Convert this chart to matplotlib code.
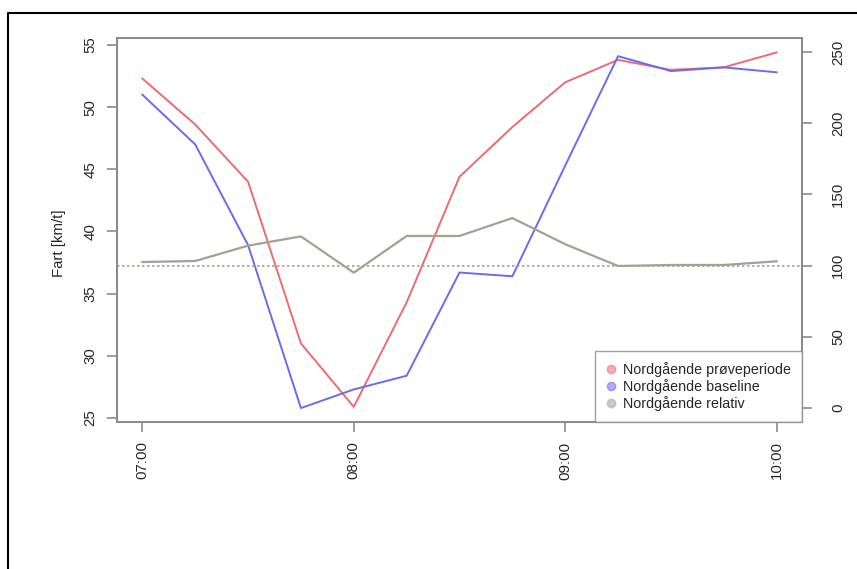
import matplotlib
matplotlib.use("Agg")
import matplotlib.pyplot as plt
from matplotlib.lines import Line2D

# ---- data ----
times = ["07:00", "07:15", "07:30", "07:45", "08:00", "08:15", "08:30",
         "08:45", "09:00", "09:15", "09:30", "09:45", "10:00"]
proeve = [52.3, 48.6, 44.0, 31.0, 25.9, 34.3, 44.4, 48.4, 52.0, 53.8, 53.0, 53.2, 54.4]
baseline = [51.0, 47.0, 38.9, 25.8, 27.3, 28.4, 36.7, 36.4, 45.3, 54.1, 52.9, 53.2, 52.8]
relativ = [102.5, 103.2, 114.0, 120.5, 95.0, 120.8, 120.8, 133.4, 115.0, 99.7, 100.4, 100.4, 103.0]
ref_level = 100
xtick_labels = ["07:00", "08:00", "09:00", "10:00"]
left_ticks = [25, 30, 35, 40, 45, 50, 55]
right_ticks = [0, 50, 100, 150, 200, 250]
legend_labels = ["Nordgående prøveperiode", "Nordgående baseline", "Nordgående relativ"]

plt.rcParams['font.family'] = ['Liberation Sans', 'DejaVu Sans']

c_red = "#EE6A72"
c_blue = "#6B6BEE"
c_green = "#9CA68F"
c_axis = "#8A8A8A"
c_text = "#262626"

fig = plt.figure(figsize=(8.57, 5.69), dpi=100)
ax = fig.add_axes([117/857, 1-422/569, (802-117)/857, (422-38)/569])
ax2 = ax.twinx()

x = list(range(len(times)))
ax.plot(x, proeve, color=c_red, lw=1.4)
ax.plot(x, baseline, color=c_blue, lw=1.4)
ax2.plot(x, relativ, color=c_green, lw=1.6)
ax2.axhline(ref_level, color=c_green, lw=1.2, ls=(0, (1.5, 1.5)))

ax.set_xlim(-0.48, 12.48)
ax.set_ylim(24.68, 55.56)
ax2.set_ylim(-10, 260)

tick_pos = [times.index(t) for t in xtick_labels]
ax.set_xticks(tick_pos)
ax.set_xticklabels(xtick_labels, rotation=90, color=c_text, fontsize=10.8)
ax.set_yticks(left_ticks)
ax.set_yticklabels([str(v) for v in left_ticks], rotation=90, va='center', color=c_text, fontsize=10.8)
ax2.set_yticks(right_ticks)
ax2.set_yticklabels([str(v) for v in right_ticks], rotation=90, va='center', color=c_text, fontsize=10.8)

for a in (ax, ax2):
    for s in a.spines.values():
        s.set_color(c_axis)
        s.set_linewidth(1.3)
    a.tick_params(color=c_axis, length=7, width=1.2)
ax.tick_params(axis='x', pad=7)
ax.tick_params(axis='y', pad=7)
ax2.tick_params(axis='y', pad=14)

ax.set_ylabel("Fart [km/t]", fontsize=10.8, color=c_text)
ax.yaxis.set_label_coords(-0.074, 0.466)

handles = [Line2D([], [], ls='', marker='o', ms=6, markerfacecolor=c, markeredgecolor=c, alpha=0.55)
           for c in (c_red, c_blue, c_green)]
leg = ax2.legend(handles, legend_labels, loc='lower right', borderaxespad=0,
                 fontsize=10.3, frameon=True, fancybox=False, handlelength=0.8,
                 handletextpad=0.45, labelspacing=0.15, borderpad=0.75, labelcolor=c_text)
leg.get_frame().set_edgecolor(c_axis)
leg.get_frame().set_linewidth(1.0)

# outer screenshot border (top and left)
fig.add_artist(Line2D([8/857, 8/857, 1], [0, 1-13/569, 1-13/569],
                      transform=fig.transFigure, color='black', lw=1.5))

fig.savefig("out.png", dpi=100, facecolor='white')
